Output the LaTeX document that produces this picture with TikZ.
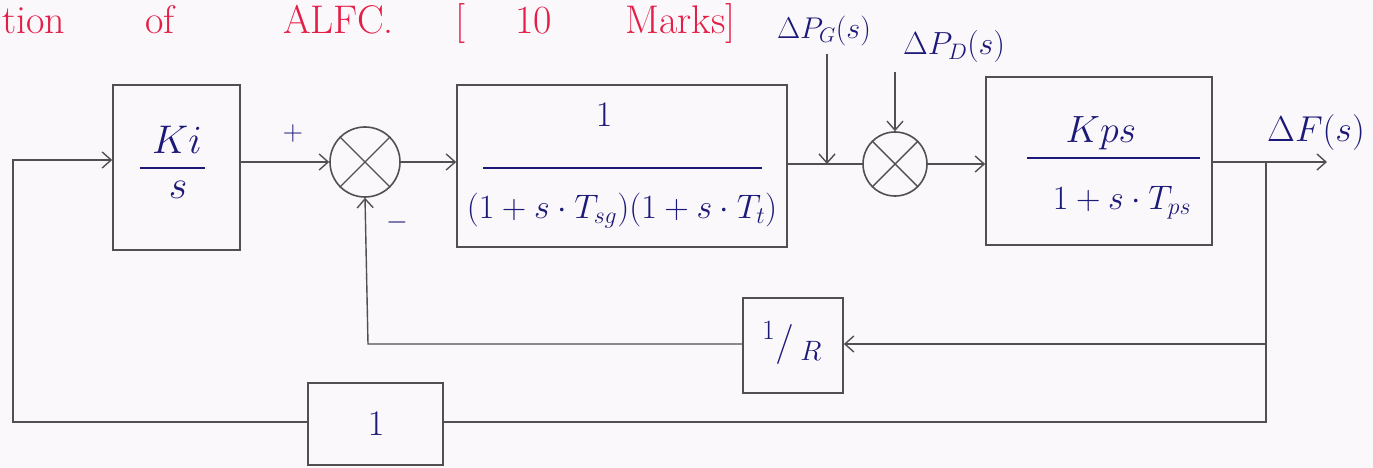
\RequirePackage{fix-cm}
\documentclass[tikz,border=0pt]{standalone}
\usetikzlibrary{arrows.meta,calc}
\definecolor{ink}{RGB}{28,26,120}
\definecolor{pen}{RGB}{80,80,80}
\definecolor{redink}{RGB}{228,30,70}
\definecolor{paper}{RGB}{251,248,251}
\begin{document}
\begin{tikzpicture}[x=1pt,y=-1pt,
  blk/.style={draw=pen,line width=1.6pt,rectangle,inner sep=0pt},
  sumj/.style={draw=pen,line width=1.6pt,circle,inner sep=0pt},
  wire/.style={draw=pen,line width=1.4pt},
  arr/.style={wire,-{Straight Barb[length=9pt,width=16pt,line width=1.4pt]}},
  lbl/.style={text=ink,inner sep=0pt,font=\fontsize{30}{30}\selectfont},
  fracline/.style={draw=ink,line width=1.6pt},
]
\fill[paper] (0,0) rectangle (1373,468);
\useasboundingbox (0,0) rectangle (1373,468);

% header (red)
\node[text=redink,font=\fontsize{40}{40}\selectfont,anchor=base west,inner sep=0pt] (hdr) at (2,34)
  {\makebox[143pt][l]{tion}\makebox[138pt][l]{of}\makebox[172pt][l]{ALFC.}\makebox[60pt][l]{[}\makebox[110pt][l]{10}Marks]};

% blocks
\node[blk,minimum width=127pt,minimum height=165pt] (ki) at (176.5,167.5) {};
\node[sumj,minimum size=70pt] (s1) at (365,162) {};
\node[blk,minimum width=330pt,minimum height=162pt] (g) at (622,166) {};
\node[sumj,minimum size=64pt] (s2) at (895,164) {};
\node[blk,minimum width=226pt,minimum height=168pt] (p) at (1099,161) {};
\node[blk,minimum width=100pt,minimum height=95pt] (r) at (793,345.5) {};
\node[blk,minimum width=135pt,minimum height=82pt] (one) at (375.5,424) {};

% crosses in summing junctions
\draw[wire] (s1.north west) -- (s1.south east) (s1.north east) -- (s1.south west);
\draw[wire] (s2.north west) -- (s2.south east) (s2.north east) -- (s2.south west);

% coordinates
\coordinate (tl) at (13,160);
\coordinate (bl) at (13,422);
\coordinate (j1) at (827,164);
\coordinate (pgtop) at (827,54);
\coordinate (pdtop) at (895,72);
\coordinate (tap) at (1266,162);
\coordinate (out) at (1327,162);
\coordinate (fbr) at (1266,344);
\coordinate (br) at (1266,422);
\coordinate (fbl) at (368,344);

% connectors
\draw[arr] (one.west |- bl) -- (bl) -- (tl) -- (tl -| ki.west);
\draw[arr] (ki.east |- s1) -- (s1.west);
\draw[arr] (s1.east) -- (s1.east -| g.west);
\draw[wire] (g.east |- j1) -- (j1) -- (s2.west);
\draw[arr] (pgtop) -- (j1);
\draw[arr] (pdtop) -- (s2.north);
\draw[arr] (s2.east) -- (s2.east -| p.west);
\draw[arr] (p.east |- out) -- (out);
\draw[wire] (tap) -- (br) -- (br -| one.east);
\draw[arr] (fbr) -- (fbr -| r.east);
\draw[arr] (fbl -| r.west) -- (fbl) -- (s1.south);

% signs
\node[lbl,font=\fontsize{28}{28}\selectfont] (plus) at (293,134) {$+$};
\node[lbl,font=\fontsize{28}{28}\selectfont] (minus) at (397,222) {$-$};

% block texts
\node[lbl,font=\fontsize{40}{40}\selectfont] (kin) at (177,140) {$Ki$};
\draw[fracline] (140,168) -- (205,168);
\node[lbl,font=\fontsize{40}{40}\selectfont] (kid) at (178,190) {$s$};

\node[lbl,font=\fontsize{36}{36}\selectfont] (gn) at (604,115) {$1$};
\draw[fracline] (483,168) -- (762,168);
\node[lbl,font=\fontsize{34}{34}\selectfont] (gd) at (622,211) {$(1+s\cdot T_{sg})(1+s\cdot T_{t})$};

\node[lbl,font=\fontsize{38}{38}\selectfont] (pn) at (1101,133) {$Kps$};
\draw[fracline] (1027,158) -- (1200,158);
\node[lbl,font=\fontsize{34}{34}\selectfont] (pd) at (1122,203) {$1+s\cdot T_{ps}$};

\node[lbl,font=\fontsize{40}{40}\selectfont] (rt) at (792,343) {$^{1}\Big/{\,}_{R}$};
\node[lbl,font=\fontsize{36}{36}\selectfont] (ot) at (376,424) {$1$};

% signal labels
\node[lbl] (pg) at (824,31) {$\Delta P_{G}(s)$};
\node[lbl,font=\fontsize{32}{32}\selectfont] (pdl) at (954,47) {$\Delta P_{D}(s)$};
\node[lbl,font=\fontsize{36}{36}\selectfont] (df) at (1316,133) {$\Delta F(s)$};
\end{tikzpicture}
\end{document}
